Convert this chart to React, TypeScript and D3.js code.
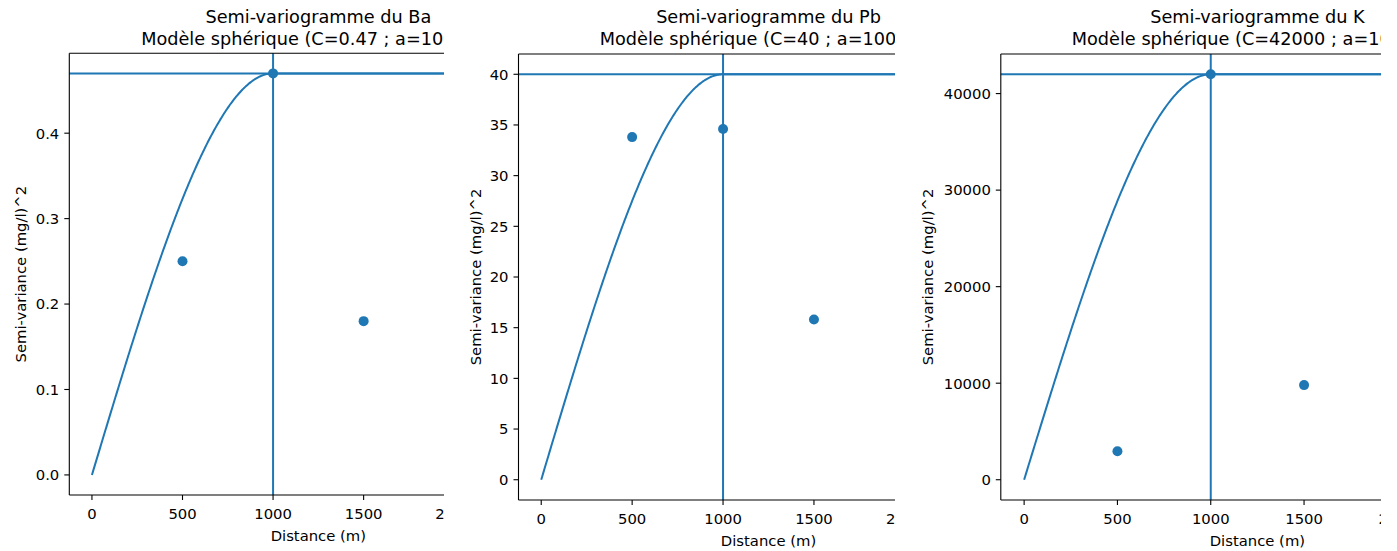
import React from "react";
import * as d3 from "d3";

// experimental semi-variogram (lag distances in m)
const lags = [500, 1000, 1500];
const baValues = [0.25, 0.47, 0.18];
const pbValues = [33.8, 34.6, 15.8];
const kValues = [2950, 42000, 9800];

// fitted spherical models
const sills = [0.47, 40, 42000];
const modelRange = 1000;
const maxDistance = 2500;

const elements = ["Ba", "Pb", "K"];
const sillLabels = ["0.47", "40", "42000"];
const xTicks = [0, 500, 1000, 1500, 2000, 2500];
const yTickSteps = [0.1, 5, 10000];
const yTickFormats = [".1f", "d", "d"];

const COLOR = "#1f77b4";
const FONT = "'DejaVu Sans', sans-serif";
const TICK_FS = 14.8;
const TITLE_FS = 17.7;

// layout of the three (right-cropped) panels
const layout = [
  { left: 69.3, right: 567.4, top: 53.3, bottom: 495, clipL: 0, clipR: 444, ylabelX: 20 },
  { left: 518.5, right: 1018.5, top: 54, bottom: 500, clipL: 450, clipR: 895, ylabelX: 475 },
  { left: 1000.8, right: 1514, top: 54, bottom: 500, clipL: 905, clipR: 1381, ylabelX: 927 },
];

const spherical = (h: number, c: number, a: number) =>
  h >= a ? c : c * (1.5 * (h / a) - 0.5 * Math.pow(h / a, 3));

const Panel = ({ i }: { i: number }) => {
  const L = layout[i];
  const sill = sills[i];
  const values = [baValues, pbValues, kValues][i];
  const pad = maxDistance * 0.05;
  const x = d3.scaleLinear().domain([-pad, maxDistance + pad]).range([L.left, L.right]);
  const y = d3
    .scaleLinear()
    .domain([-0.05 * sill, 1.05 * sill])
    .range([L.bottom, L.top]);
  const yTicks = d3.range(0, sill + 1e-9, yTickSteps[i]);
  const fmt = d3.format(yTickFormats[i]);

  const hs = d3.range(0, maxDistance + 1, 5);
  const model = d3
    .line<number>()
    .x((h) => x(h))
    .y((h) => y(spherical(h, sill, modelRange)))(hs);

  const cx = (L.left + L.right) / 2;
  const cy = (L.top + L.bottom) / 2;
  const clipId = `clip-${i}`;

  return (
    <g clipPath={`url(#${clipId})`} fontFamily={FONT} fill="#000">
      <defs>
        <clipPath id={clipId}>
          <rect x={L.clipL} y={0} width={L.clipR - L.clipL} height={551} />
        </clipPath>
      </defs>

      {/* title */}
      <text x={cx} y={23} textAnchor="middle" fontSize={TITLE_FS}>
        {`Semi-variogramme du ${elements[i]}`}
      </text>
      <text x={cx} y={44.5} textAnchor="middle" fontSize={TITLE_FS}>
        {`Modèle sphérique (C=${sillLabels[i]} ; a=${modelRange} m)`}
      </text>

      {/* model, sill, range and experimental points */}
      <g>
        <path d={model ?? ""} fill="none" stroke={COLOR} strokeWidth={2} />
        <line x1={L.left} x2={L.right} y1={y(sill)} y2={y(sill)} stroke={COLOR} strokeWidth={2} />
        <line x1={x(modelRange)} x2={x(modelRange)} y1={L.top} y2={L.bottom} stroke={COLOR} strokeWidth={2} />
        {lags.map((h, k) => (
          <circle key={k} cx={x(h)} cy={y(values[k])} r={5} fill={COLOR} />
        ))}
      </g>

      {/* spines */}
      <line x1={L.left} x2={L.left} y1={L.top} y2={L.bottom} stroke="#000" strokeWidth={1.1} />
      <line x1={L.left} x2={L.right} y1={L.bottom} y2={L.bottom} stroke="#000" strokeWidth={1.1} />
      <line x1={L.left} x2={L.right} y1={L.top} y2={L.top} stroke="#000" strokeWidth={1.1} />
      <line x1={L.right} x2={L.right} y1={L.top} y2={L.bottom} stroke="#000" strokeWidth={1.1} />

      {/* x axis */}
      {xTicks.map((t) => (
        <g key={t} transform={`translate(${x(t)},${L.bottom})`}>
          <line y2={5} stroke="#000" strokeWidth={1.1} />
          <text y={23.5} textAnchor="middle" fontSize={TICK_FS}>
            {t}
          </text>
        </g>
      ))}
      <text x={cx} y={L.bottom + 45.5} textAnchor="middle" fontSize={TICK_FS}>
        Distance (m)
      </text>

      {/* y axis */}
      {yTicks.map((t) => (
        <g key={t} transform={`translate(${L.left},${y(t)})`}>
          <line x2={-5} stroke="#000" strokeWidth={1.1} />
          <text x={-10} dy="0.36em" textAnchor="end" fontSize={TICK_FS}>
            {fmt(t)}
          </text>
        </g>
      ))}
      <text
        transform={`translate(${L.ylabelX},${cy}) rotate(-90)`}
        textAnchor="middle"
        dominantBaseline="central"
        fontSize={TICK_FS}
      >
        Semi-variance (mg/l)^2
      </text>
    </g>
  );
};

export default function App() {
  return (
    <div style={{ position: "absolute", left: 0, top: 0, background: "#fff" }}>
      <svg width={1397} height={551} style={{ display: "block" }}>
        <rect width={1397} height={551} fill="#fff" />
        {layout.map((_, i) => (
          <Panel key={i} i={i} />
        ))}
      </svg>
    </div>
  );
}
